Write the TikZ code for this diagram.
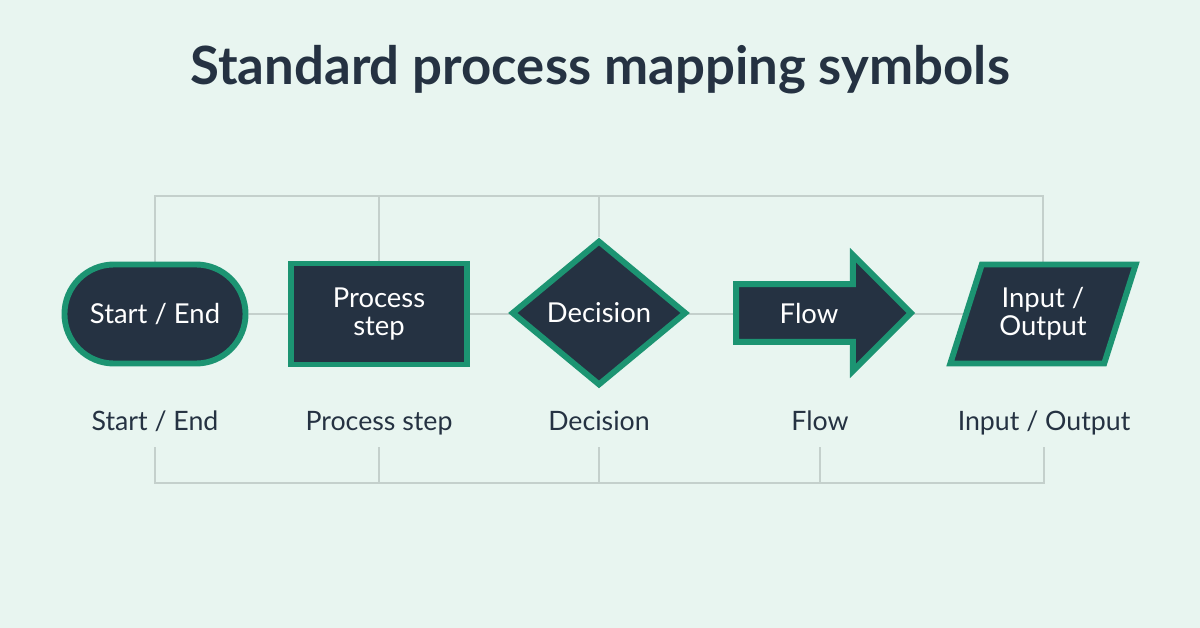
\documentclass[tikz,border=0pt]{standalone}
\usepackage{fontspec}
\setmainfont{Lato}
\usepackage{tikz}
\usetikzlibrary{arrows.meta, positioning, shapes.geometric, shapes.misc, shapes.arrows, backgrounds, calc}
\definecolor{pagecol}{RGB}{232,245,240}
\definecolor{navycol}{RGB}{37,50,66}
\definecolor{edgecol}{RGB}{28,148,114}
\definecolor{linkcol}{RGB}{196,208,204}

\begin{document}
\begin{tikzpicture}[
    x=0.025cm, y=-0.025cm,
    symbol/.style={draw=edgecol, fill=navycol, line width=4.2pt, line join=miter,
                   text=white, align=center, font=\fontsize{19.5}{22}\selectfont, inner sep=0pt},
    caption/.style={anchor=base, inner sep=0pt, text depth=12pt, text=navycol,
                    font=\fontsize{19}{22}\selectfont},
    link/.style={draw=linkcol, line width=1.1pt}
  ]
  \useasboundingbox (0,0) rectangle (1200,628);
  \node[text=navycol, font=\fontsize{37.5}{44}\selectfont\bfseries] (title) at (600,70) {Standard process mapping symbols};
  % the five symbols
  \node[symbol, rounded rectangle, minimum width=4.525cm, minimum height=2.475cm] (term) at (155,314) {Start / End};
  \node[symbol, rectangle, minimum width=4.4cm, minimum height=2.525cm] (proc) at (379,314) {Process\\[-2pt]step};
  \node[symbol, diamond, minimum width=4.37cm, minimum height=3.63cm] (dec) at (599,313) {Decision};
  \node[symbol, single arrow, single arrow head extend=0.33cm, minimum height=4.37cm,
        minimum width=2.9cm] (flow) at (809,313) {Flow};
  \node[symbol, trapezium, trapezium left angle=67, trapezium right angle=113, trapezium stretches=true,
        minimum width=4.65cm, minimum height=2.475cm] (io) at (1043,314) {Input /\\[-2pt]Output};
  % captions
  \node[caption] (lterm) at (155,430) {Start / End};
  \node[caption] (lproc) at (379,430) {Process step};
  \node[caption] (ldec)  at (599,430) {Decision};
  \node[caption] (lflow) at (820,430) {Flow};
  \node[caption] (lio)   at (1044,430) {Input / Output};
  \coordinate (topbar) at (599,196);
  \coordinate (botbar) at (599,483);
  \begin{scope}[on background layer]
    \fill[pagecol] (0,0) rectangle (1200,628);
    \draw[link] (term) -- (io);
    \draw[link] (term.north) |- (topbar) -| (io.north);
    \draw[link] (proc.north) -- (proc.north |- topbar);
    \draw[link] (dec.north) -- (topbar);
    \draw[link] (lterm.south) |- (botbar) -| (lio.south);
    \draw[link] (lproc.south) -- (lproc.south |- botbar);
    \draw[link] (ldec.south) -- (botbar);
    \draw[link] (lflow.south) -- (lflow.south |- botbar);
  \end{scope}
\end{tikzpicture}
\end{document}
